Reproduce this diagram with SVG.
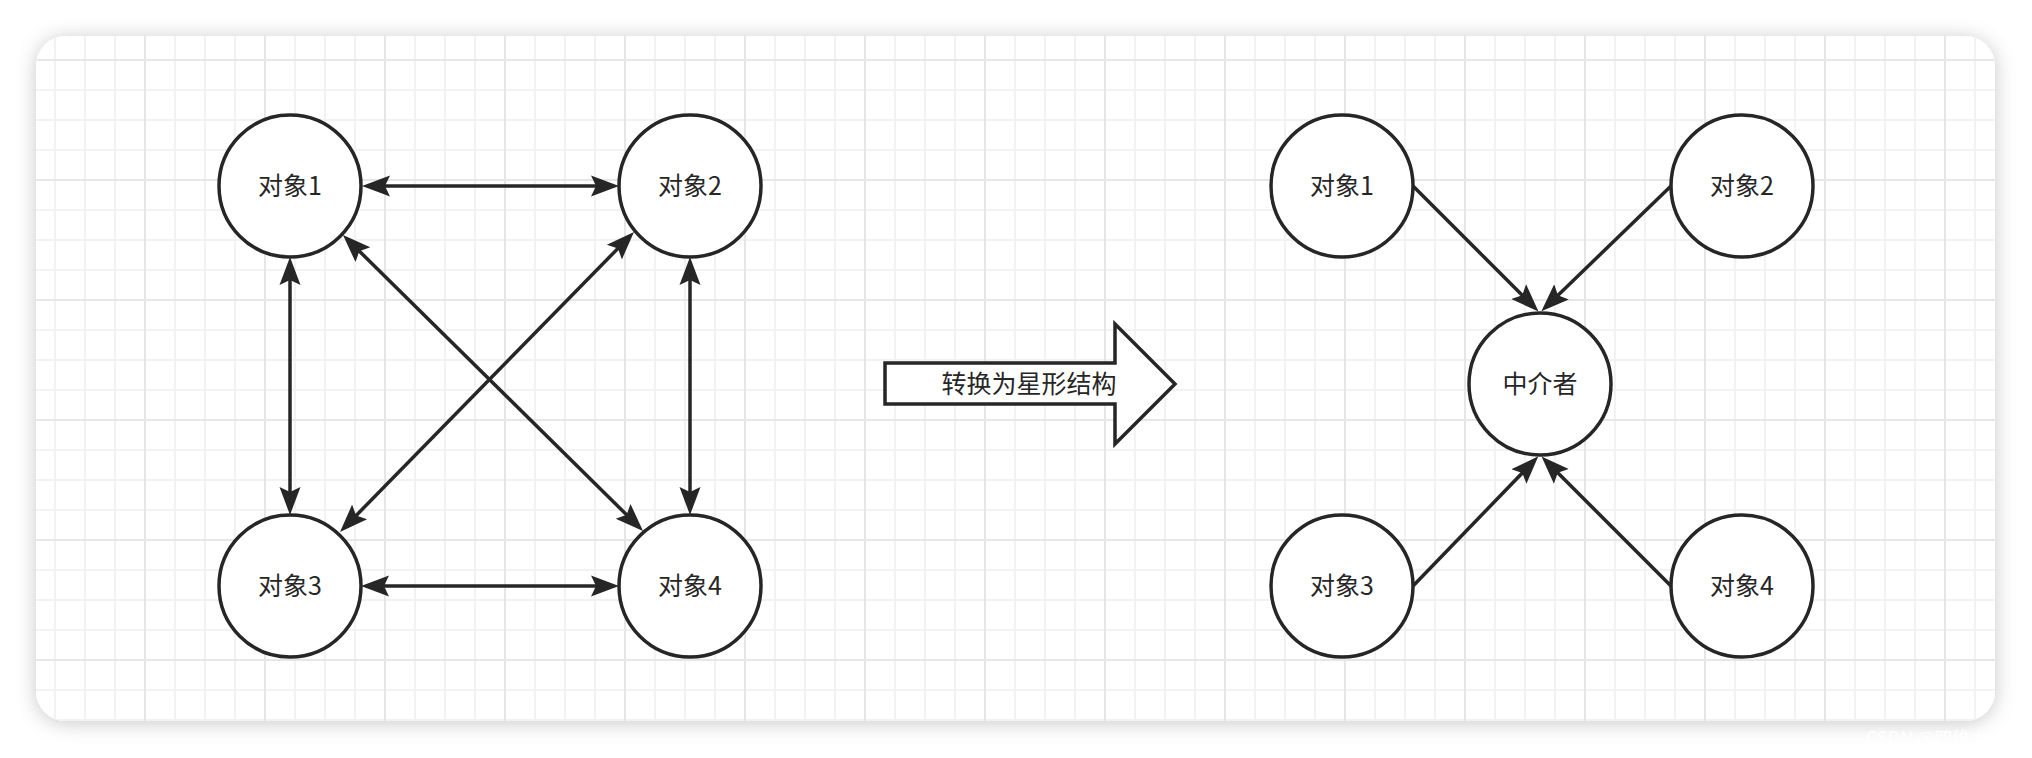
<svg xmlns="http://www.w3.org/2000/svg" width="2032" height="758" viewBox="0 0 2032 758">
  <style>
    .node circle { fill: #ffffff; stroke: #262626; stroke-width: 3.5; }
    .node text, .label { font-family: "Noto Sans CJK SC", "Noto Sans", sans-serif; font-size: 25px; fill: #262626; text-anchor: middle; }
    .edge { stroke: #262626; stroke-width: 3.5; fill: none; }
    .bi { marker-start: url(#arrow); marker-end: url(#arrow); }
    .uni { marker-end: url(#arrow); }
    .wm { font-family: "Noto Sans CJK SC", "Noto Sans", sans-serif; font-size: 18px; fill: #ffffff; }
  </style>
  <defs>
    <filter id="shadow" x="-5%" y="-10%" width="110%" height="120%">
      <feDropShadow dx="0" dy="2" stdDeviation="10" flood-color="#000000" flood-opacity="0.22"/>
    </filter>
    <pattern id="grid" patternUnits="userSpaceOnUse" x="24" y="59" width="120" height="120">
      <rect x="30" y="0" width="2" height="120" fill="#f2f2f2"/>
      <rect x="60" y="0" width="2" height="120" fill="#f2f2f2"/>
      <rect x="90" y="0" width="2" height="120" fill="#f2f2f2"/>
      <rect x="0" y="30" width="120" height="2" fill="#f2f2f2"/>
      <rect x="0" y="60" width="120" height="2" fill="#f2f2f2"/>
      <rect x="0" y="90" width="120" height="2" fill="#f2f2f2"/>
      <rect x="0" y="0" width="2" height="120" fill="#e6e6e6"/>
      <rect x="0" y="0" width="120" height="2" fill="#e6e6e6"/>
    </pattern>
    <marker id="arrow" markerUnits="userSpaceOnUse" markerWidth="32" markerHeight="26" refX="16" refY="13" orient="auto-start-reverse">
      <path d="M28,13 L0,2.5 L5,13 L0,23.5 Z" fill="#262626"/>
    </marker>
  </defs>

  <rect x="0" y="0" width="2032" height="758" fill="#ffffff"/>
  <rect x="36" y="36" width="1959" height="685" rx="30" ry="30" fill="#ffffff" filter="url(#shadow)"/>
  <rect x="36" y="36" width="1959" height="685" rx="30" ry="30" fill="url(#grid)"/>

  <g id="connectors">
    <line class="edge bi" x1="374" y1="186" x2="607" y2="186"/>
    <line class="edge bi" x1="290" y1="269" x2="290" y2="503"/>
    <line class="edge bi" x1="690" y1="269" x2="690" y2="503"/>
    <line class="edge bi" x1="373" y1="586" x2="607" y2="586"/>
    <line class="edge bi" x1="351.5" y1="243.4" x2="634.5" y2="522.6"/>
    <line class="edge bi" x1="625.6" y1="240.6" x2="348.4" y2="523.4"/>
    <line class="edge uni" x1="1413" y1="186" x2="1530" y2="303"/>
    <line class="edge uni" x1="1671" y1="186" x2="1550" y2="303"/>
    <line class="edge uni" x1="1413" y1="586" x2="1530" y2="465"/>
    <line class="edge uni" x1="1671" y1="586" x2="1550" y2="465"/>
  </g>

  <g id="left-obj1" class="node"><circle cx="290" cy="186" r="71"/><text x="290" y="195">对象1</text></g>
  <g id="left-obj2" class="node"><circle cx="690" cy="186" r="71"/><text x="690" y="195">对象2</text></g>
  <g id="left-obj3" class="node"><circle cx="290" cy="586" r="71"/><text x="290" y="595">对象3</text></g>
  <g id="left-obj4" class="node"><circle cx="690" cy="586" r="71"/><text x="690" y="595">对象4</text></g>

  <g id="transform-arrow">
    <polygon points="885,363 1115,363 1115,324 1175,384 1115,444 1115,404 885,404" fill="#ffffff" stroke="#262626" stroke-width="3.5" stroke-linejoin="miter"/>
    <text class="label" x="1029" y="393">转换为星形结构</text>
  </g>

  <g id="right-obj1" class="node"><circle cx="1342" cy="186" r="71"/><text x="1342" y="195">对象1</text></g>
  <g id="right-obj2" class="node"><circle cx="1742" cy="186" r="71"/><text x="1742" y="195">对象2</text></g>
  <g id="mediator" class="node"><circle cx="1540" cy="384" r="71"/><text x="1540" y="393">中介者</text></g>
  <g id="right-obj3" class="node"><circle cx="1342" cy="586" r="71"/><text x="1342" y="595">对象3</text></g>
  <g id="right-obj4" class="node"><circle cx="1742" cy="586" r="71"/><text x="1742" y="595">对象4</text></g>

  <text class="wm" x="1866" y="745">CSDN @四维大脑</text>
</svg>
